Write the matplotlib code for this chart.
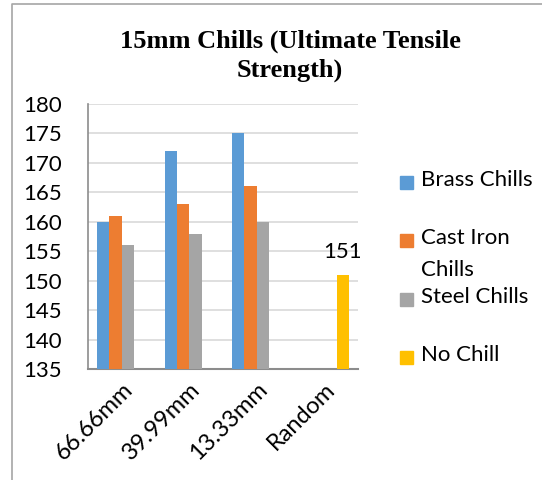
import matplotlib
matplotlib.use("Agg")
import matplotlib.pyplot as plt
import numpy as np
from matplotlib.patches import Rectangle
from matplotlib.lines import Line2D

# chill size categories and tensile strength per chill material
categories = ["66.66mm", "39.99mm", "13.33mm", "Random"]
series_names = ["Brass Chills", "Cast Iron\nChills", "Steel Chills", "No Chill"]
brass = [160, 172, 175, np.nan]
cast_iron = [161, 163, 166, np.nan]
steel = [156, 158, 160, np.nan]
no_chill = [np.nan, np.nan, np.nan, 151]
colors = ["#5B9BD5", "#ED7D31", "#A5A5A5", "#FFC000"]

W, H = 542, 480
fig = plt.figure(figsize=(W / 100, H / 100), dpi=100)
ax = fig.add_axes([88 / W, 1 - 369 / H, (358 - 88) / W, (369 - 104) / H])

font = "Lato"
fs = 16
x = np.arange(len(categories))
bw = 0.182
values = [brass, cast_iron, steel, no_chill]
for i, (vals, c) in enumerate(zip(values, colors)):
    pos = x + (i - 1.5) * bw
    v = np.array(vals, dtype=float)
    m = ~np.isnan(v)
    bars = ax.bar(pos[m], v[m] - 135, bottom=135, width=bw, color=c, zorder=3)
    if i == 3:
        for b, val in zip(bars, v[m]):
            ax.text(b.get_x() + b.get_width() / 2, val + 2.2, f"{val:.0f}",
                    ha="center", va="bottom", fontsize=fs, family=font)

ax.set_xlim(-0.5, len(categories) - 0.5)
ax.set_ylim(135, 180)
ax.set_yticks(np.arange(135, 181, 5))
ax.yaxis.grid(True, color="#D9D9D9", linewidth=1.2, zorder=0)
ax.set_xticks(x)
ax.set_xticklabels(categories, rotation=45, ha="right", va="top",
                   rotation_mode="anchor", fontsize=17, family=font)
ax.tick_params(axis="both", length=0)
ax.tick_params(axis="x", pad=7)
ax.tick_params(axis="y", pad=19)
for lab in ax.get_yticklabels():
    lab.set_fontsize(fs)
    lab.set_family(font)
for s in ["top", "right"]:
    ax.spines[s].set_visible(False)
ax.spines["left"].set_color("#8C8C8C")
ax.spines["left"].set_linewidth(1.2)
ax.spines["bottom"].set_color("#8C8C8C")
ax.spines["bottom"].set_linewidth(1.5)

fig.text(290 / W, 1 - 56 / H, "15mm Chills (Ultimate Tensile\nStrength)",
         ha="center", va="center", fontsize=19, fontweight="bold",
         family="Liberation Serif", linespacing=1.3)

# legend drawn by hand so the wrapped label keeps its marker on the first line
legend_y = [182, 240, 299, 357]
for name, c, yy in zip(series_names, colors, legend_y):
    fig.patches.append(Rectangle((400 / W, 1 - (yy + 6.5) / H), 13 / W, 13 / H,
                                 transform=fig.transFigure, color=c))
    fig.text(421 / W, 1 - (yy - 12) / H, name, ha="left", va="top",
             fontsize=fs, family=font, linespacing=1.75)

# outer frame
fig.lines.append(Line2D([12 / W, 12 / W, 1], [0, 1 - 4 / H, 1 - 4 / H],
                        transform=fig.transFigure, color="#A6A6A6", linewidth=1.2))

fig.savefig("out.png", dpi=100)
